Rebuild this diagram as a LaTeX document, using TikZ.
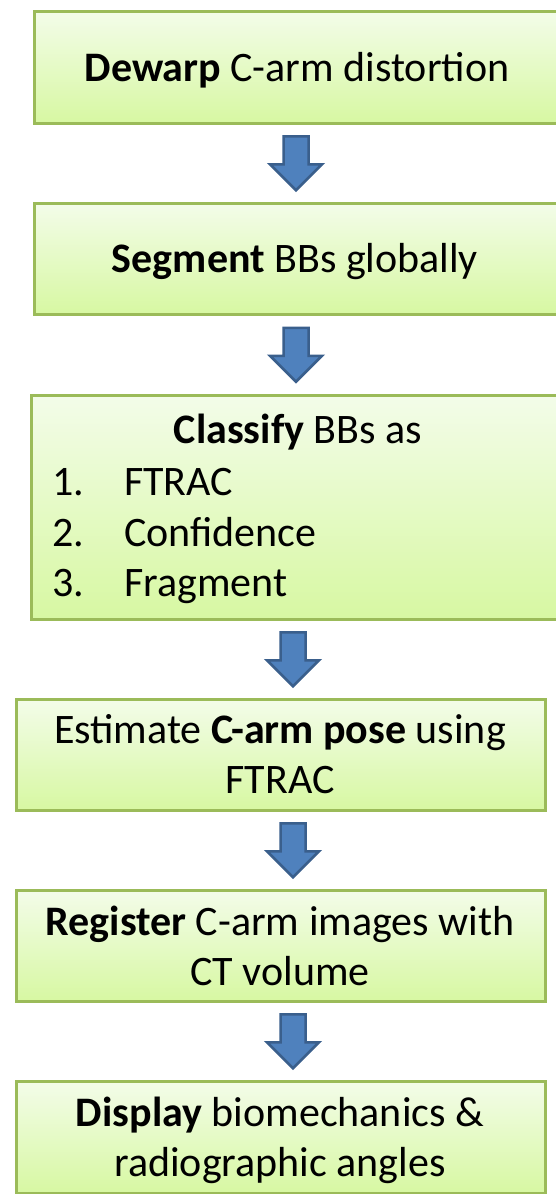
\documentclass[tikz,border=0pt]{standalone}
\usepackage{fontspec}
\setmainfont{Carlito}
\usetikzlibrary{calc,backgrounds}
\definecolor{boxborder}{HTML}{9BBB59}
\definecolor{boxtop}{HTML}{F3FCE9}
\definecolor{boxbot}{HTML}{D7F8A2}
\definecolor{arrfill}{HTML}{4F81BD}
\definecolor{arrline}{HTML}{3A5F8C}
\tikzset{
  stepbox/.style={draw=boxborder, line width=2.5pt, top color=boxtop, bottom color=boxbot, rectangle, anchor=north west, inner sep=0pt},
  txt/.style={inner sep=0pt, font=\fontsize{42}{50}\selectfont, text=black, anchor=base},
  arrowsty/.style={draw=arrline, fill=arrfill, line width=2.5pt, line join=miter},
  blockarrow/.pic={\draw[arrowsty] (-12.5,-27) -- (12.5,-27) -- (12.5,1) -- (26,1) -- (0,27) -- (-26,1) -- (-12.5,1) -- cycle;}
}
\newcommand\boxshadow[1]{%
  \begin{scope}[on background layer]
    \foreach \i in {0,...,4}{
      \fill[black, opacity=0.07] ($(#1.north west)+(1.5-0.7*\i,6)$) rectangle ($(#1.south east)+(1.5+0.7*\i,1.5+1.3*\i)$);
    }
  \end{scope}}
\begin{document}
\begin{tikzpicture}[x=1pt,y=-1pt]
\useasboundingbox (0,0) rectangle (556,1194);
\clip (0,0) rectangle (556,1194);
\fill[white] (0,0) rectangle (556,1194);

% boxes
\node[stepbox, minimum width=528pt, minimum height=112pt] (b1) at (33,10) {};
\node[stepbox, minimum width=528pt, minimum height=111pt] (b2) at (33,202) {};
\node[stepbox, minimum width=534pt, minimum height=224pt] (b3) at (30,394) {};
\node[stepbox, minimum width=529pt, minimum height=111pt] (b4) at (15,698) {};
\node[stepbox, minimum width=529pt, minimum height=111pt] (b5) at (15,889) {};
\node[stepbox, minimum width=529pt, minimum height=112pt] (b6) at (15,1080) {};
\boxshadow{b1}\boxshadow{b2}\boxshadow{b3}\boxshadow{b4}\boxshadow{b5}\boxshadow{b6}

% texts
\node[txt] (t1) at (297,81) {\textbf{Dewarp} C-arm distortion};
\node[txt] (t2) at (295,272) {\textbf{Segment} BBs globally};
\node[txt] (t3) at (298,443) {\textbf{Classify} BBs as};
\node[txt, anchor=base west] (n1) at (52,495) {1.};
\node[txt, anchor=base west] (i1) at (124,495) {FTRAC};
\node[txt, anchor=base west] (n2) at (52,546) {2.};
\node[txt, anchor=base west] (i2) at (124,546) {Confidence};
\node[txt, anchor=base west] (n3) at (52,596) {3.};
\node[txt, anchor=base west] (i3) at (124,596) {Fragment};
\node[txt] (t4a) at (280,743) {Estimate \textbf{C-arm pose} using};
\node[txt] (t4b) at (280,793) {FTRAC};
\node[txt] (t5a) at (280,935) {\textbf{Register} C-arm images with};
\node[txt] (t5b) at (280,985) {CT volume};
\node[txt] (t6a) at (280,1126) {\textbf{Display} biomechanics \&};
\node[txt] (t6b) at (280,1176) {radiographic angles};

% arrows
\coordinate (m1) at ($(b1.south)!0.5!(b2.north)$);
\coordinate (m2) at ($(b2.south)!0.5!(b3.north)$);
\coordinate (m3) at ($(b3.south)!0.5!(b4.north)$);
\coordinate (m4) at ($(b4.south)!0.5!(b5.north)$);
\coordinate (m5) at ($(b5.south)!0.5!(b6.north)$);
\pic at (296,0 |- m1) {blockarrow};
\pic at (296,0 |- m2) {blockarrow};
\pic at (293,0 |- m3) {blockarrow};
\pic at (293,0 |- m4) {blockarrow};
\pic at (293,0 |- m5) {blockarrow};
\end{tikzpicture}
\end{document}
